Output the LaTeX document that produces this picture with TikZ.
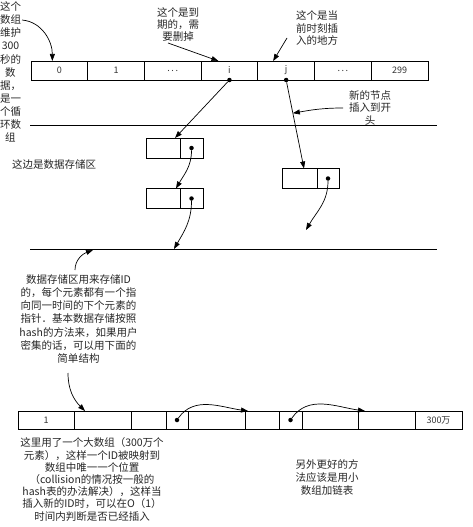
\documentclass[tikz,border=0pt]{standalone}
\usepackage{fontspec}
\setmainfont{Noto Sans CJK SC}
\usetikzlibrary{arrows.meta,calc}
\begin{document}
\begin{tikzpicture}[x=1pt,y=1pt,
  txt/.style={font=\fontsize{10.5}{13}\selectfont, align=center, inner sep=0pt, text=black!85},
  cell/.style={draw, line width=0.7pt, outer sep=0pt, minimum height=19pt, inner sep=0pt, anchor=west, font=\fontsize{9}{10}\selectfont, text=black!80},
  arr/.style={-{Triangle[length=7pt,width=5pt]}, line width=0.7pt},
  dot/.style={circle, fill, inner sep=0pt, minimum size=4.5pt},
  sep/.style={line width=0.9pt}
]
\useasboundingbox (0,0) rectangle (472,-527);

% top circular array
\foreach \k/\t in {0/0,1/1,2/{.\,.\,.},3/i,4/j,5/{.\,.\,.},6/299}
  \node[cell, minimum width=56.7pt] (c\k) at ({31+\k*56.7},-70.5) {\t};
\node[dot] (di) at (c3.south) {};
\node[dot] (dj) at (c4.south) {};

% separator lines
\coordinate (l1w) at (30,-125); \coordinate (l1e) at (437,-125);
\coordinate (l2w) at (30,-249); \coordinate (l2e) at (437,-249);
\draw[sep] (l1w) -- (l1e);
\draw[sep] (l2w) -- (l2e);

% list nodes
\node[cell, minimum width=34pt, minimum height=20pt] (al) at (146,-148) {};
\node[cell, minimum width=23pt, minimum height=20pt] (ar) at (al.east) {};
\node[dot] (da) at (ar.center) {};
\node[cell, minimum width=34pt, minimum height=20pt] (bl) at (146,-198.5) {};
\node[cell, minimum width=23pt, minimum height=20pt] (br) at (bl.east) {};
\node[dot] (db) at (br.center) {};
\node[cell, minimum width=35pt, minimum height=20pt] (cl) at (282,-178.5) {};
\node[cell, minimum width=22pt, minimum height=20pt] (cr) at (cl.east) {};
\node[dot] (dc) at (cr.center) {};

% bottom big array
\foreach \k/\a/\b/\t in {0/18/74/1,1/74/131/{},2/131/166/{},3/166/188/{},4/188/245/{},5/245/279/{},6/279/302/{},7/302/358/{},8/358/415/{},9/415/462/300万}
  \node[cell, minimum width={(\b-\a)*1pt}, minimum height=18pt] (b\k) at (\a,-420) {\t};
\node[dot] (dx) at (b3.center) {};
\node[dot] (dy) at (b6.center) {};

% texts
\node[txt, font=\fontsize{10.5}{13.1}\selectfont] (tl) at (10.5,-72)
  {这个\\数组\\维护\\300\\秒的\\数\\据，\\是一\\个循\\环数\\组};
\node[txt, font=\fontsize{10.5}{12}\selectfont] (exp) at (178,-24) {这个是到\\期的，需\\要删掉};
\node[txt, font=\fontsize{10.5}{12.5}\selectfont] (cur) at (317,-28) {这个是当\\前时刻插\\入的地方};
\node[txt, font=\fontsize{10.5}{12.5}\selectfont] (newn) at (370,-107.5) {新的节点\\插入到开\\头};
\node[txt, anchor=west] (store) at (12,-164) {这边是数据存储区};
\node[txt, font=\fontsize{10.5}{13.1}\selectfont] (mid) at (78.5,-319)
  {数据存储区用来存储ID\\的，每个元素都有一个指\\向同一时间的下个元素的\\指针．基本数据存储按照\\hash的方法来，如果用户\\密集的话，可以用下面的\\简单结构};
\node[txt, font=\fontsize{10.5}{12.2}\selectfont] (bot) at (92,-479.5)
  {这里用了一个大数组（300万个\\元素），这样一个ID被映射到\\数组中唯一一个位置\\（collision的情况按一般的\\hash表的办法解决），这样当\\插入新的ID时，可以在O（1）\\时间内判断是否已经插入};
\node[txt, font=\fontsize{10.5}{13}\selectfont] (better) at (327,-477) {另外更好的方\\法应该是用小\\数组加链表};

% connectors
\coordinate (tlA) at (22,-20);
\draw[arr] (tlA) to[out=-5,in=90] ([xshift=-7pt]c0.north);
\coordinate (expA) at (168,-43);
\draw[arr] (expA) -- ([xshift=-11pt]c3.north);
\coordinate (curA) at (287,-38);
\draw[arr] (curA) -- ([xshift=-13pt]c4.north);

\coordinate (cTop) at ([xshift=-13pt]cl.north east);
\draw[arr] (di) -- ([xshift=-5pt]al.north east);
\draw[arr] (dj) -- (cTop);
\coordinate (jm) at ($(dj)!0.375!(cTop)$);
\coordinate (newA) at (343,-108);
\draw[arr] (newA) to[out=180,in=10] (jm);

\draw[arr] (da) to[out=-90,in=60] ([xshift=-4pt]bl.north east);
\coordinate (l2a) at (174,-249);
\draw[arr] (db) to[out=-90,in=60] (l2a);
\coordinate (cEnd) at (306,-230);
\draw[arr] (dc) to[out=-90,in=60] (cEnd);

\coordinate (midT) at (75,-270);
\coordinate (l2b) at (93,-250);
\draw[arr] (midT) to[out=90,in=200] (l2b);
\coordinate (midB) at (68,-373);
\draw[arr] (midB) to[out=-90,in=135] ([xshift=11pt]b1.north west);

\draw[arr] (dx) to[out=55,in=172] ([xshift=3pt]b5.north west);
\draw[arr] (dy) to[out=55,in=172] ([xshift=7pt]b8.north west);
\end{tikzpicture}
\end{document}
